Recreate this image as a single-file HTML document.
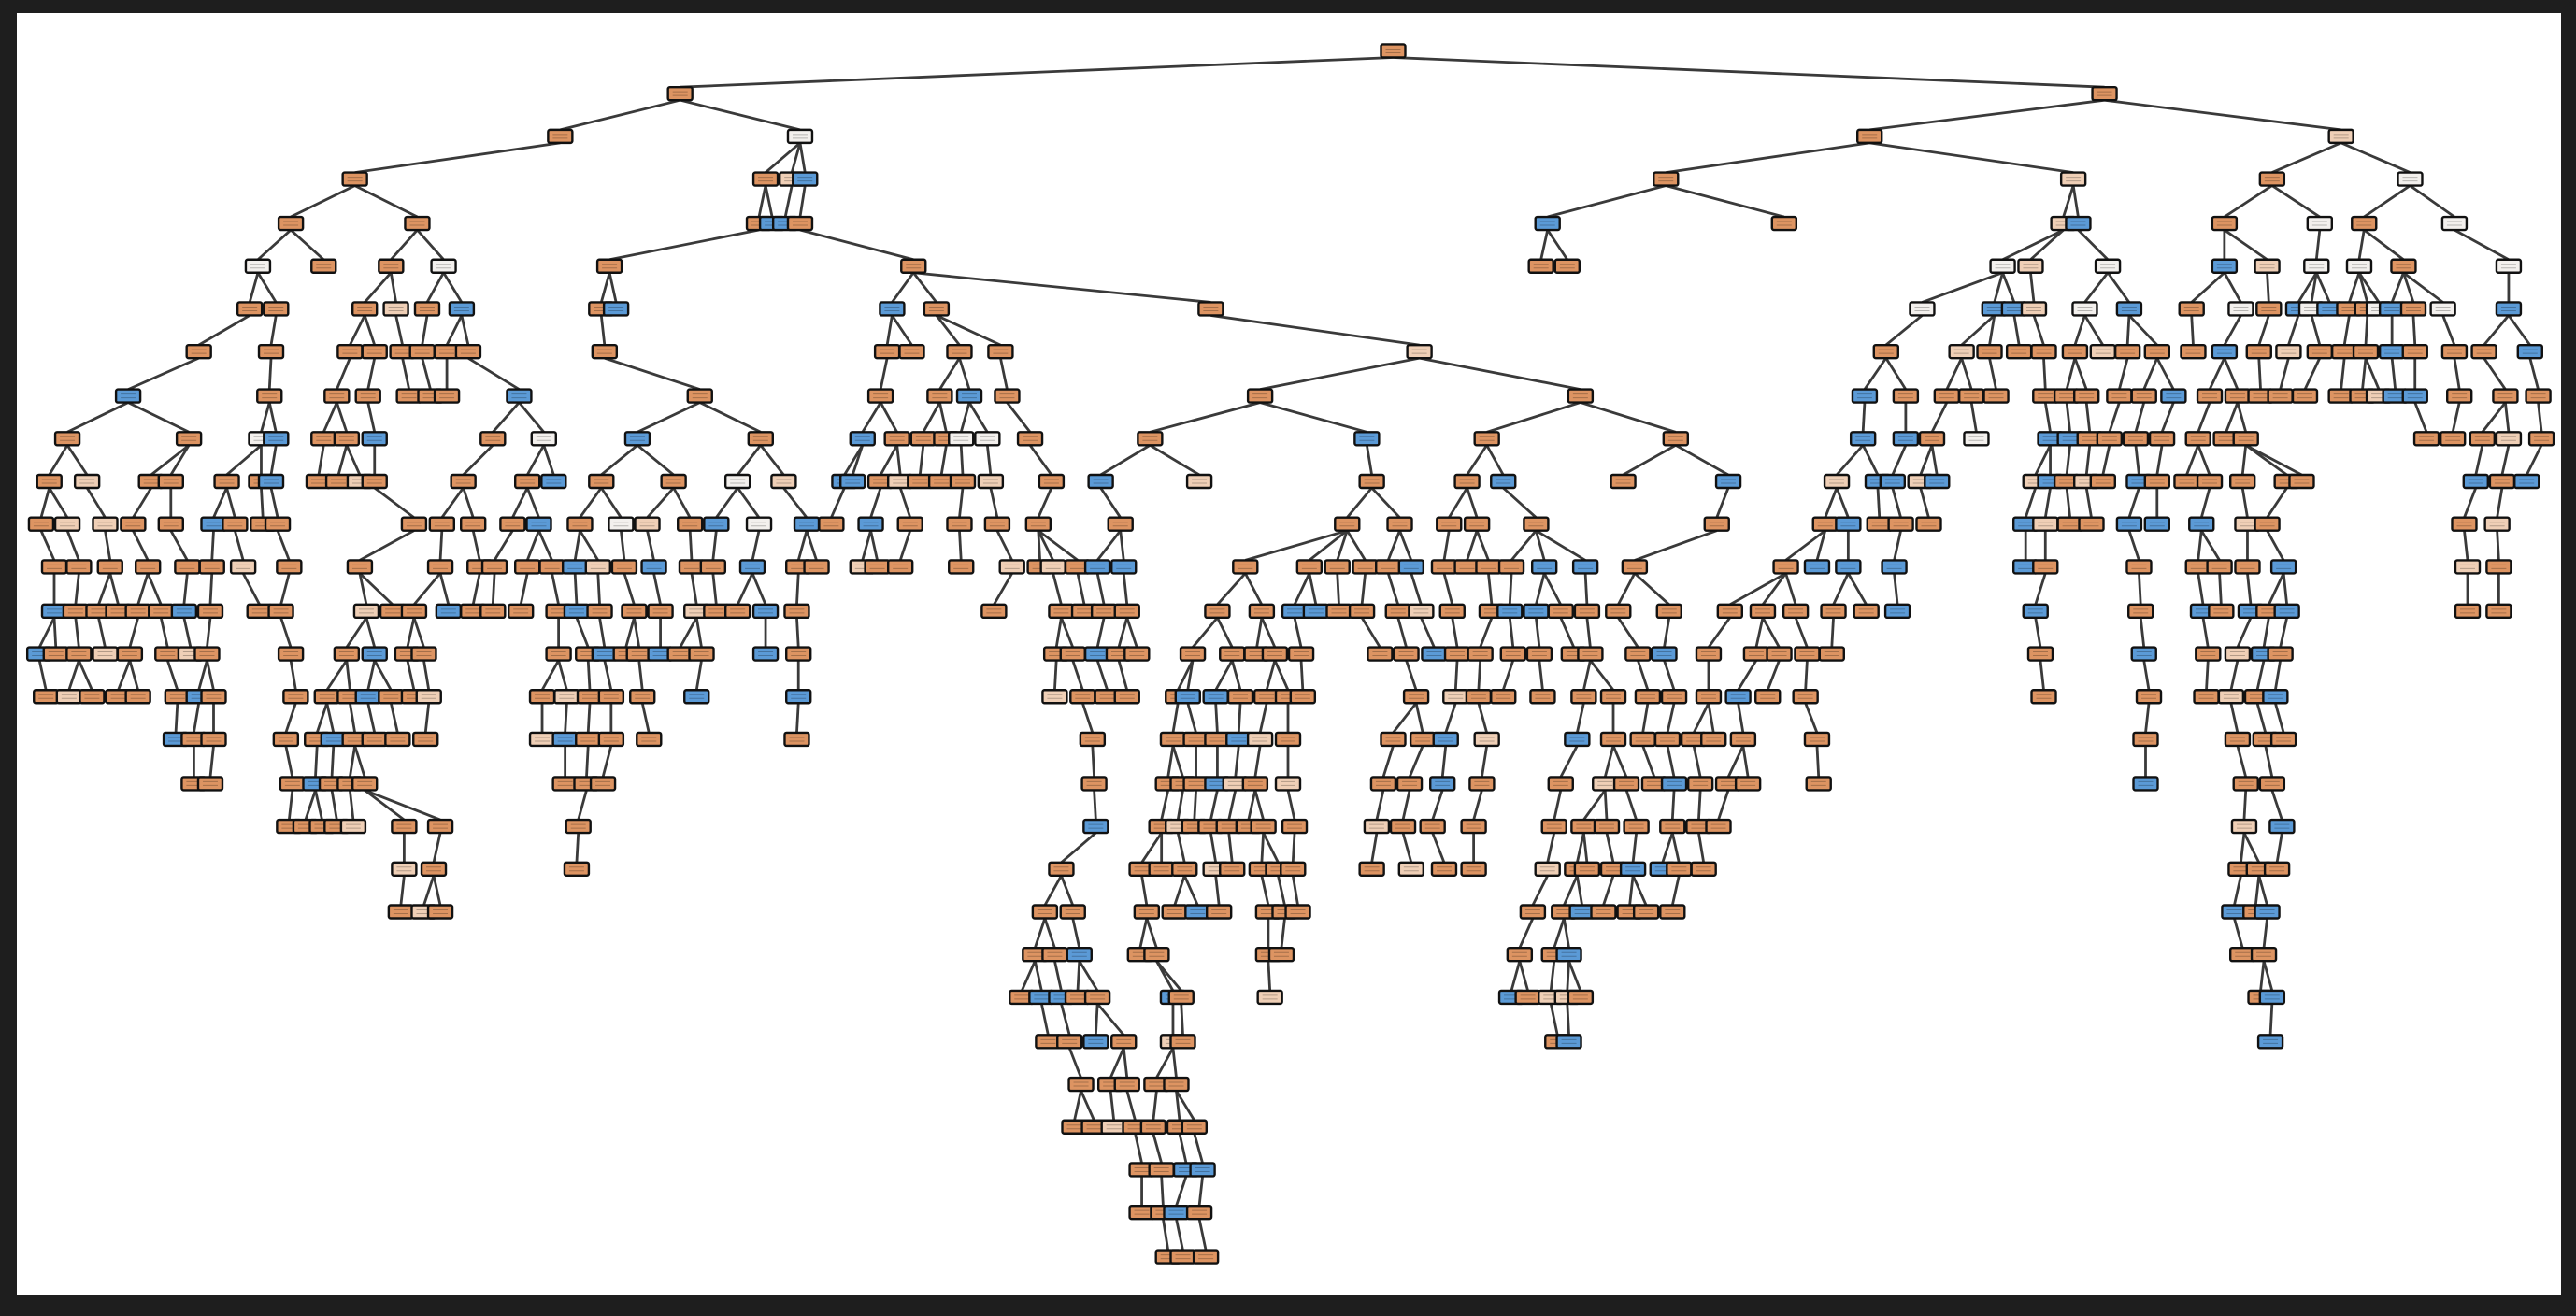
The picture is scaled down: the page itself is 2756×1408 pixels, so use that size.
<!DOCTYPE html>
<html><head><meta charset="utf-8"><style>
html,body{margin:0;padding:0;background:#1e1e1e;}
#wrap{position:relative;width:2756px;height:1408px;background:#1e1e1e;overflow:hidden;}
#paper{position:absolute;left:18px;top:14px;width:2722px;height:1371px;background:#fff;}
svg{position:absolute;left:0;top:0;}
</style></head><body>
<div id="wrap"><div id="paper"></div>
<svg id="s" width="2756" height="1408" xmlns="http://www.w3.org/2000/svg"></svg>
</div>
<script>
var L=[
"848",
"414 1281",
"341 487w 1138 1425l",
"216 466 482l 490b 1014 1262l 1383 1467w",
"177 254 462 470b 478b 487 942b 1086 1256l 1265b 1354 1412w 1439 1494w",
"157w 197 238 270w 371 556 938 954 1219w 1236l 1283w 1354b 1380 1410w 1436w 1463 1527w",
"152 168 222 241l 260 281b 366 375b 543b 570 737 1170w 1214 1226 1238l 1269w 1296b 1334 1364w 1381 1399b 1407w 1418 1430 1441 1448w 1456b 1469 1487w 1527b",
"121 165 213 228 245 257 272 285 368 540 555 584 609 864 1148 1194 1211 1229 1244 1263 1280 1295 1313 1335 1354 1375 1393 1412 1427 1440 1456 1470 1494 1512 1540",
"78 164 205 224 249 262 272 316 426 536 572 590 613 767 962 1135 1160 1185 1200 1215 1245 1258 1270 1290 1305 1323 1345 1362 1376 1388 1403 1425 1438 1448 1458 1470 1497 1525 1545",
"41 115 159w 168b 197 211 228b 300 331w 388 463 525 546 562 576 585w 601w 627 700 832 905 1020 1134 1160 1176 1203w 1248 1260 1272 1284 1300 1316 1338 1355 1367 1477 1493 1511 1527 1547",
"30 53 92 104 138 159 165b 194 206 219 228 282 321 337 366 410 449w 477 514 519 536 548 560 573 586 603 640 670b 730 835 893 915b 988 1052b 1118 1143b 1152b 1169 1179 1239 1248 1258 1270 1280 1302 1313 1331 1345 1365 1392 1401 1507 1523 1538",
"25 41 64 81 104 130b 143 160 169 252 269 288 312 328 353 378w 394 420 436 462w 491 506 530 554 584 607 632 682 820 852 882 899 935 1045 1111 1125b 1144 1157 1174 1233 1245 1260 1273 1296 1313 1340 1368 1380 1500 1520",
"33 48 67 90 114 129 148 176 219 268 292 301 321 336 350 364 380 398b 421 434 458 486 497 525 534 548 585 616 633 641 656 668 684 758 797 814 831 845 859 879 893 906 920 940b 965 995 1087 1106 1125 1153 1233b 1245 1302 1338 1351 1368 1390b 1502 1521",
"33 46 60 72 84 98 112 128 158 171 223 239 252 273 288 300 317 340 351 365 386 402 424 436 449 466 485 605 646 660 672 686 741 768 788 801 815 829 851 865 884 908 919 935 950 966 985 1016 1053 1073 1093 1116 1136 1155b 1239 1303 1341 1352 1370 1381 1392b 1502 1521",
"24 34 48 64 79 102 116 126 177 211 228 248 258 340 358 368 381 389 402 414 427 466 486 643 653 668 681 692 726 750 765 776 792 840 856 873 887 901 921 937 958 968 997 1013 1040 1069 1083 1100 1115 1242 1305 1344 1362 1378 1388",
"28 42 56 72 84 108 121 130 180 199 213 224 238 252 261 330 345 359 372 391 424 486 642 659 674 686 717 723 740 755 771 784 793 862 886 900 915 939 964 982 1003 1019 1040 1058 1076 1099 1244 1308 1343 1358 1374 1385",
"107 118 130 174 193 203 216 228 242 259 330 344 358 372 395 485 665 714 728 741 754 767 784 848 866 880 905 960 982 1000 1015 1031 1043 1061 1106 1306 1362 1379 1390",
"118 128 178 192 202 213 222 344 357 367 666 711 720 728 741 752 764 784 842 858 878 902 950 977 990 1007 1019 1035 1052 1064 1107 1306 1367 1383",
"176 186 196 205 215 246 268 352 667 707 717 727 737 748 760 769 788 838 854 872 897 946 964 978 996 1018 1034 1046 1366 1389",
"246 264 351 646 695 707 721 740 750 768 778 787 835 859 879 897 942 960 966 982 994 1012 1022 1037 1364 1375 1386",
"244 258 268 636 653 698 715 729 742 772 782 790 933 952 963 976 992 1002 1018 1360 1373 1380",
"630 642 657 694 704 772 780 925 946 955 1365 1378",
"622 634 646 656 668 714 719 773 920 930 944 954 962 1376 1383",
"638 651 667 684 714 720 948 955 1382",
"658 676 686 704 716",
"654 666 678 691 702 718 727",
"695 707 722 732",
"695 708 716 730",
"711 720 734"
];
var S=2756/1568, ys=[31,57,83,109,136,162,188,214,241,267,293,319,345,372,398,424,450,477,503,529,555,581,607,634,660,686,712,738,765];
var seed=11;function rnd(){seed=(seed*9301+49297)%233280;return seed/233280;}
var lv=L.map(function(r,i){return r.split(" ").map(function(t){var c=t.replace(/[0-9]/g,'');var x=parseFloat(t);
 if(!c){var q=rnd();var pb=i<6?0:0.17;c=q<pb?'b':(q<pb+0.10?'l':'o');}return {x:x*S,c:c};});});
var lines="",boxes="",W=26,H=14;
var col={o:"#dd9462",b:"#5b9ad6",w:"#f3f0ed",l:"#efcfb6"};
for(var i=0;i<lv.length;i++){var y=ys[i]*S;
 lv[i].forEach(function(n){
  if(i>0){var best=null,d=1e9;lv[i-1].forEach(function(p){var dd=Math.abs(p.x-n.x);if(dd<d){d=dd;best=p;}});
   var py=ys[i-1]*S;lines+='<line x1="'+best.x+'" y1="'+(py+H/2)+'" x2="'+n.x+'" y2="'+(y-H/2)+'" stroke="#3a3a3a" stroke-width="2.8"/>';}
  boxes+='<rect x="'+(n.x-W/2)+'" y="'+(y-H/2)+'" width="'+W+'" height="'+H+'" rx="2" fill="'+col[n.c]+'" stroke="#111" stroke-width="2.4"/>';
  boxes+='<line x1="'+(n.x-8)+'" y1="'+(y-2)+'" x2="'+(n.x+8)+'" y2="'+(y-2)+'" stroke="rgba(0,0,0,0.25)" stroke-width="1"/><line x1="'+(n.x-8)+'" y1="'+(y+2)+'" x2="'+(n.x+8)+'" y2="'+(y+2)+'" stroke="rgba(0,0,0,0.25)" stroke-width="1"/>';
 });}
document.getElementById("s").innerHTML=lines+boxes;
</script>
</body></html>
